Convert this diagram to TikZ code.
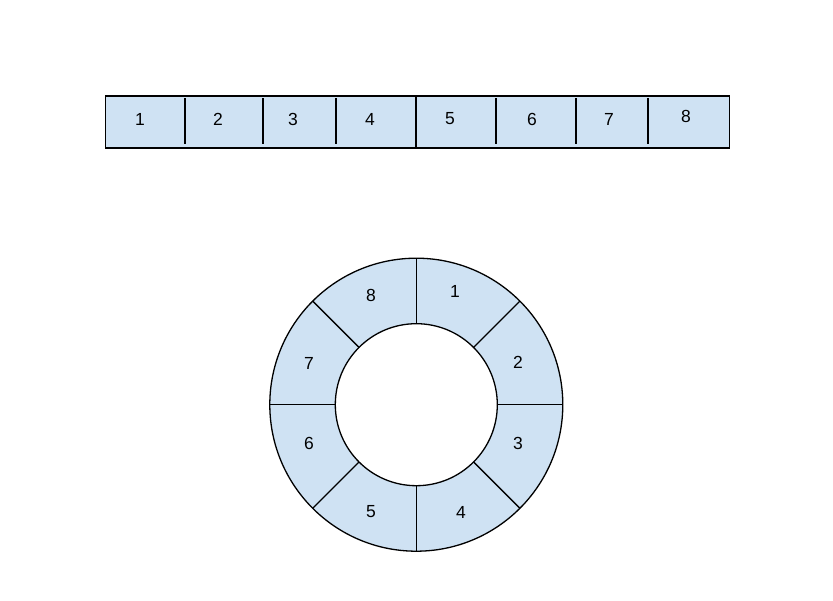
\documentclass[tikz,border=0pt]{standalone}
\usepackage{fontspec}
\setmainfont{Liberation Sans}
\usetikzlibrary{calc}
\definecolor{cellblue}{HTML}{CFE2F3}
\begin{document}
\begin{tikzpicture}[x=1pt,y=-1pt,
  line/.style={draw=black,line width=1.3pt},
  lbl/.style={font=\fontsize{17.5}{17.5}\selectfont,inner sep=0pt}]
\useasboundingbox (0,0) rectangle (833,601);
% top bar
\node[line,fill=cellblue,minimum width=624pt,minimum height=52pt,inner sep=0pt,anchor=north west] (bar) at (104.5,95.5) {};
\foreach \x in {185,263,336,496,576,648}{
  \draw[line] (\x,98.5) -- (\x,144.5);
}
\draw[line] (416,95.5) -- (416,147.5);
\foreach \t/\x/\y in {1/140/119,2/218/119,3/293/119,4/370/119,5/450/119,6/532/119,7/609/119,8/686/116}{
  \node[lbl] (b\t) at (\x,\y) {\t};
}
% ring
\coordinate (c) at (416.3,404.7);
\fill[cellblue,even odd rule] (c) circle (146.5) (c) circle (81);
\draw[line] (c) circle (146.5);
\draw[line] (c) circle (81);
\foreach \a in {0,45,...,315}{
  \draw[line] ($(c)+(\a:81)$) -- ($(c)+(\a:146.5)$);
}
\foreach \t/\x/\y in {1/455/291,2/518/362,3/518/443,4/461/512,5/371/512,6/309/443,7/309/363,8/371/295}{
  \node[lbl] (r\t) at (\x,\y) {\t};
}
\end{tikzpicture}
\end{document}
